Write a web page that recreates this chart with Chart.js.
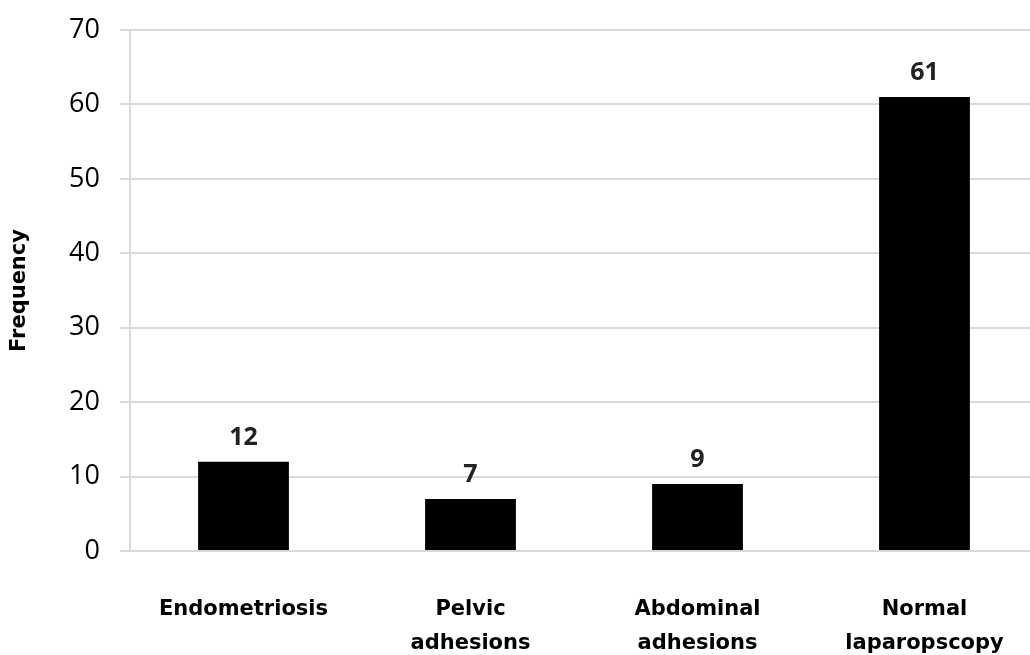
<!DOCTYPE html>
<html>
<head>
<meta charset="utf-8">
<script src="https://cdn.jsdelivr.net/npm/chart.js@4"></script>
<style>
  html, body { margin: 0; padding: 0; background: #fff; overflow: hidden; }
  #wrap { width: 1030px; height: 655px; overflow: hidden; }
</style>
</head>
<body>
<div id="wrap"><canvas id="chart" width="1038" height="655"></canvas></div>
<script>
// les categories (2 lignes pour certaines)
const categories = [
  "Endometriosis",
  ["Pelvic", "adhesions"],
  ["Abdominal", "adhesions"],
  ["Normal", "laparopscopy"]
]
// frequences
const frequencies = [12, 7, 9, 61]
const yTicks = [0, 10, 20, 30, 40, 50, 60, 70]

// plugin pour ecrire la valeur au dessus de chaque barre
const valueLabels = {
  id: 'valueLabels',
  afterDatasetsDraw(chart) {
    const ctx = chart.ctx
    const meta = chart.getDatasetMeta(0)
    ctx.save()
    ctx.font = 'bold 25px "Open Sans", sans-serif'
    ctx.fillStyle = '#222'
    ctx.textAlign = 'center'
    ctx.textBaseline = 'alphabetic'
    meta.data.forEach((bar, i) => {
      ctx.fillText(frequencies[i], bar.x, bar.y - 17)
    })
    ctx.restore()
  }
}

new Chart(document.getElementById('chart'), {
  type: 'bar',
  data: {
    labels: categories,
    datasets: [{
      data: frequencies,
      backgroundColor: '#000',
      borderWidth: 0,
      barPercentage: 0.4,
      categoryPercentage: 1
    }]
  },
  plugins: [valueLabels],
  options: {
    responsive: false,
    animation: false,
    layout: { padding: { top: 30, right: 0, left: 0, bottom: 0 } },
    plugins: {
      legend: { display: false },
      tooltip: { enabled: false }
    },
    scales: {
      x: {
        // grille invisible, juste pour pousser les labels vers le bas
        grid: { color: 'rgba(0,0,0,0)', drawOnChartArea: false, drawTicks: true, tickLength: 40 },
        border: { color: '#d9d9d9', width: 2 },
        ticks: {
          color: '#000',
          padding: 2,
          maxRotation: 0,
          font: { family: '"DejaVu Sans", sans-serif', size: 21, weight: 'bold', lineHeight: 1.6 }
        },
        afterFit(s) { s.height = 104 }
      },
      y: {
        min: 0,
        max: 70,
        afterBuildTicks(s) { s.ticks = yTicks.map(v => ({ value: v })) },
        grid: { color: '#d9d9d9', lineWidth: 2, tickLength: 10 },
        border: { color: '#d9d9d9', width: 2 },
        ticks: {
          color: '#000',
          padding: 20,
          font: { family: '"Open Sans", sans-serif', size: 27 }
        },
        title: {
          display: true,
          text: 'Frequency',
          color: '#000',
          padding: { top: 7, bottom: 13 },
          font: { family: '"DejaVu Sans", sans-serif', size: 21, weight: 'bold' }
        },
        afterFit(s) {
          s.width = 130
          s.paddingTop = 0
          s.paddingBottom = 0
        }
      }
    }
  }
})
</script>
</body>
</html>
